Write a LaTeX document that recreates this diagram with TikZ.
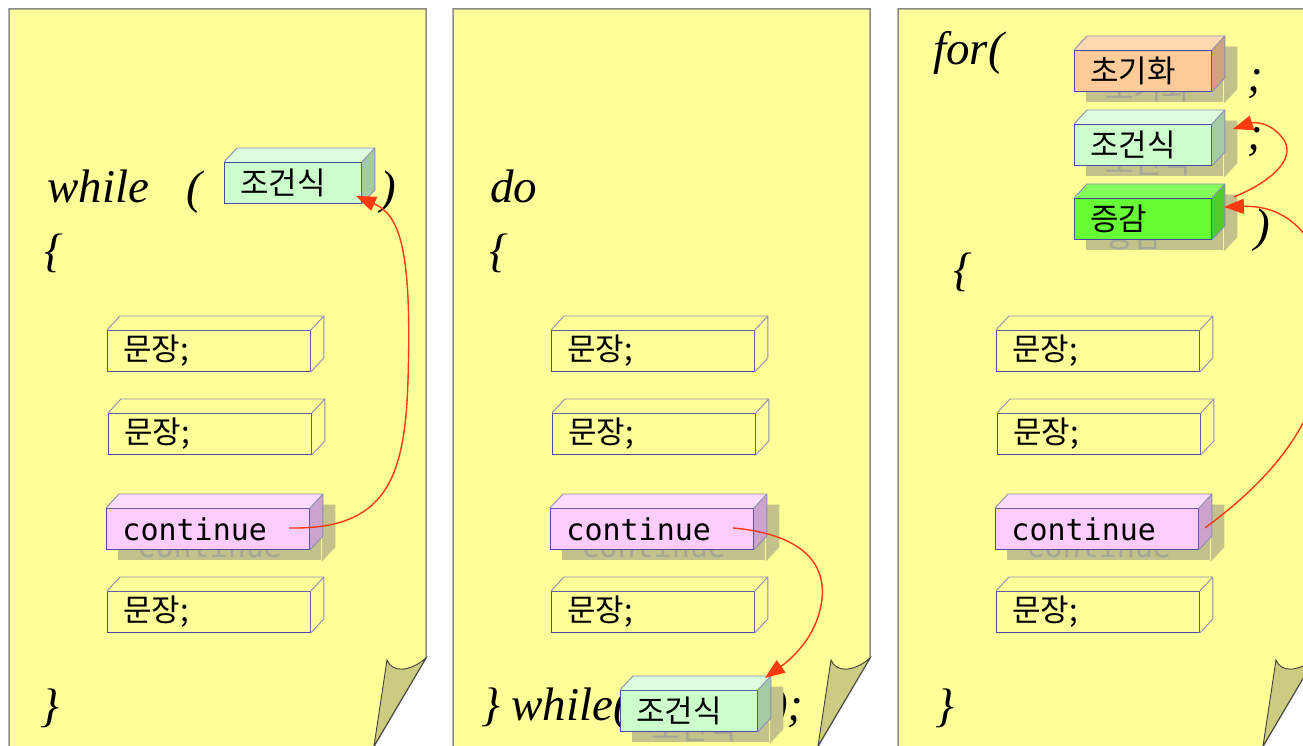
\documentclass[tikz,border=0pt]{standalone}
\usepackage{fontspec}
\newfontfamily\kofont{Noto Sans CJK KR}
\newfontfamily\codefont{DejaVu Sans Mono}
\newfontfamily\kwfont{Liberation Serif}
\usetikzlibrary{calc,
	arrows.meta,
	positioning}

\definecolor{pagec}{HTML}{FFFF99}
\definecolor{pageline}{HTML}{8A8A8A}
\definecolor{flapc}{HTML}{CCCC80}
\definecolor{boxline}{HTML}{4B4BA5}
\definecolor{faceline}{HTML}{8C8CB9}
\definecolor{shadowc}{HTML}{C2C28A}
\definecolor{shadowtext}{HTML}{A5A598}
\definecolor{arrowc}{HTML}{FF3A10}
\definecolor{condc}{HTML}{CCFFCC}
\definecolor{condtop}{HTML}{DDFFDD}
\definecolor{condside}{HTML}{A3CCA3}
\definecolor{initc}{HTML}{FFCC99}
\definecolor{inittop}{HTML}{FFD8B0}
\definecolor{initside}{HTML}{CCA37A}
\definecolor{incrc}{HTML}{66FF33}
\definecolor{incrtop}{HTML}{85FF5C}
\definecolor{incrside}{HTML}{52CC29}
\definecolor{contc}{HTML}{FFCCFF}
\definecolor{conttop}{HTML}{FFDDFF}
\definecolor{contside}{HTML}{CCA3CC}

% top and right face of a box node: node, top fill, side fill, edge colour
\newcommand{\cubefaces}[4]{
	\fill[#2] (#1.north west) -- ++(13,-14) -- ($(#1.north east)+(13,-14)$) -- (#1.north east) -- cycle;
	\fill[#3] (#1.north east) -- ($(#1.north east)+(13,-14)$) -- ($(#1.south east)+(13,-14)$) -- (#1.south east) -- cycle;
	\draw[#4,line width=0.9pt] (#1.north west) -- ++(13,-14) -- ($(#1.north east)+(13,-14)$) -- ($(#1.south east)+(13,-14)$) -- (#1.south east) ($(#1.north east)+(13,-14)$) -- (#1.north east);
}
% text of a shadow, dropped a little lower than the box shadow
\newcommand{\ghosttext}[1]{\hspace*{3pt}\raisebox{-6pt}[\height][\depth]{#1}}

\begin{document}
\begin{tikzpicture}[x=1pt,y=-1pt,
	page/.style={fill=pagec,draw=pageline,line width=1.5pt},
	flap/.style={fill=flapc,draw=black!75,line width=0.9pt},
	cube/.style={draw=boxline,fill=pagec,line width=0.9pt,anchor=north west,
		minimum height=41pt,inner xsep=16pt,inner ysep=0pt,align=left,
		font=\kofont\fontsize{31pt}{33pt}\selectfont},
	wide/.style={text width=171pt},
	narrow/.style={text width=105pt},
	code/.style={font=\codefont\fontsize{30pt}{32pt}\selectfont},
	ghost/.style={fill=shadowc,draw=none,text=shadowtext},
	kw/.style={anchor=base west,inner sep=0pt,font=\kwfont\itshape\fontsize{47pt}{47pt}\selectfont},
	flow/.style={draw=arrowc,line width=1.4pt,-{Triangle[length=20pt,width=15pt]}}]
	\useasboundingbox (0,0) rectangle (1303,746);
	\clip (0,0) rectangle (1303,746);
	% pages with folded corner
	\foreach \dx in {0,444,889} {
		\filldraw[page] (9+\dx,9) -- (426+\dx,9) -- (426+\dx,658) -- (366+\dx,760) -- (9+\dx,760) -- cycle;
		\filldraw[flap] (426+\dx,658) -- (374+\dx,746) -- (387+\dx,660) .. controls (392+\dx,673) and (410+\dx,672) .. (426+\dx,658) -- cycle;
	}
	% body of every loop
	\foreach \p/\dx in {1/0,2/444,3/889} {
		\node[cube,wide] (stmta\p) at (107+\dx,330) {문장;};
		\cubefaces{stmta\p}{pagec}{pagec}{faceline}
		\node[cube,wide] (stmtb\p) at (108+\dx,413) {문장;};
		\cubefaces{stmtb\p}{pagec}{pagec}{faceline}
		\node[cube,wide,code,ghost] (contsh\p) at (118+\dx,519) {\ghosttext{continue}};
		\cubefaces{contsh\p}{shadowc}{shadowc}{shadowc}
		\node[cube,wide,code,fill=contc] (cont\p) at (106+\dx,508) {continue};
		\cubefaces{cont\p}{conttop}{contside}{faceline}
		\node[cube,wide] (stmtc\p) at (107+\dx,591) {문장;};
		\cubefaces{stmtc\p}{pagec}{pagec}{faceline}
	}
	% while
	\node[kw] (while1) at (47,203) {while};
	\node[kw] (lp1) at (186,204) {(};
	\node[kw] (rp1) at (380,204) {)};
	\node[kw] (lb1) at (44,266) {\{};
	\node[kw] (rb1) at (40,721) {\}};
	\node[cube,narrow,fill=condc] (cond1) at (224,162) {조건식};
	\cubefaces{cond1}{condtop}{condside}{faceline}
	% do while
	\node[kw] (do2) at (490,203) {do};
	\node[kw] (lb2) at (489,266) {\{};
	\node[kw] (rb2) at (481,720) {\}};
	\node[kw] (while2) at (511,720) {while(};
	\node[kw] (rp2) at (772,720) {);};
	\node[cube,narrow,ghost] (condsh2) at (632,701) {\ghosttext{조건식}};
	\cubefaces{condsh2}{shadowc}{shadowc}{shadowc}
	\node[cube,narrow,fill=condc] (cond2) at (620,690) {조건식};
	\cubefaces{cond2}{condtop}{condside}{faceline}
	% for
	\node[kw] (for3) at (933,65) {for(};
	\node[kw] (semia3) at (1247,92) {;};
	\node[kw] (semib3) at (1247,150) {;};
	\node[kw] (rp3) at (1254,241) {)};
	\node[kw] (lb3) at (953,285) {\{};
	\node[kw] (rb3) at (935,721) {\}};
	\node[cube,narrow,ghost] (initsh3) at (1086,61) {\ghosttext{초기화}};
	\cubefaces{initsh3}{shadowc}{shadowc}{shadowc}
	\node[cube,narrow,fill=initc] (init3) at (1074,50) {초기화};
	\cubefaces{init3}{inittop}{initside}{faceline}
	\node[cube,narrow,ghost] (condsh3) at (1086,135) {\ghosttext{조건식}};
	\cubefaces{condsh3}{shadowc}{shadowc}{shadowc}
	\node[cube,narrow,fill=condc] (cond3) at (1074,124) {조건식};
	\cubefaces{cond3}{condtop}{condside}{faceline}
	\node[cube,narrow,ghost] (incrsh3) at (1086,209) {\ghosttext{증감}};
	\cubefaces{incrsh3}{shadowc}{shadowc}{shadowc}
	\node[cube,narrow,fill=incrc] (incr3) at (1074,198) {증감};
	\cubefaces{incr3}{incrtop}{incrside}{faceline}
	% continue jumps
	\draw[flow] ([shift={(-21,-1)}]cont1.east) .. controls (385,530) and (405,480) .. (408,380) .. controls (412,250) and (400,215) .. ([shift={(-6,-8)}]cond1.south east);
	\draw[flow] ([shift={(-21,-1)}]cont2.east) .. controls (810,535) and (830,570) .. (820,610) .. controls (813,640) and (790,660) .. ([shift={(7,-12)}]cond2.north east);
	\draw[flow] ([shift={(6,-1)}]cont3.east) .. controls (1270,480) and (1325,420) .. (1328,330) .. controls (1330,240) and (1290,205) .. ([shift={(12,-12)}]incr3.east);
	\draw[flow] ([shift={(22,-1)}]incr3.north east) .. controls (1275,180) and (1300,155) .. (1280,135) .. controls (1268,122) and (1255,122) .. ([shift={(21,-16)}]cond3.east);
\end{tikzpicture}
\end{document}
